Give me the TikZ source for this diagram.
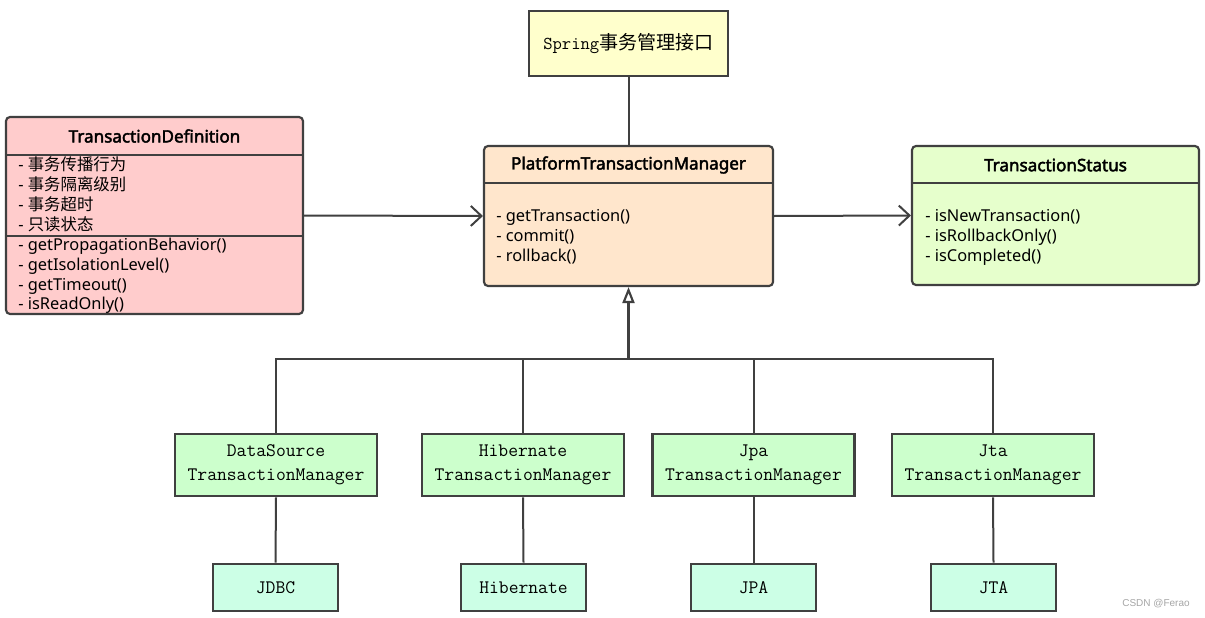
\documentclass[tikz,border=0pt]{standalone}
\usepackage{fontspec}
\setmainfont{Noto Sans}
\newfontfamily\cjk{Noto Sans CJK SC}
\newfontfamily\ttlf{Noto Sans}[FakeBold=2.5]
\newfontfamily\wmf{Liberation Sans}
\usetikzlibrary{arrows.meta}
\definecolor{edge}{HTML}{404040}
\definecolor{tdfill}{HTML}{FFCCCC}
\definecolor{ptmfill}{HTML}{FFE6CC}
\definecolor{tsfill}{HTML}{E6FFCC}
\definecolor{springfill}{HTML}{FFFFCC}
\definecolor{tmfill}{HTML}{CCFFCC}
\definecolor{techfill}{HTML}{CCFFE6}
\tikzset{
  umlbox/.style={draw=edge, line width=1.6pt, rounded corners=3pt, inner sep=0pt},
  plainbox/.style={draw=edge, line width=1.9pt, inner sep=0pt},
  tmbox/.style={plainbox, fill=tmfill, minimum width=151.5pt, minimum height=46.5pt, align=center, font=\ttfamily\fontsize{14.3}{18}\selectfont},
  techbox/.style={plainbox, fill=techfill, minimum width=93.75pt, minimum height=35.25pt, font=\ttfamily\fontsize{14.3}{18}\selectfont},
  sep/.style={draw=edge, line width=1.5pt},
  conn/.style={draw=edge, line width=1.5pt},
  memb/.style={anchor=west, inner sep=0pt, text height=8.5pt, text depth=2.5pt, font=\fontsize{12.3}{14}\selectfont},
  ttl/.style={inner sep=0pt, font=\ttlf\fontsize{12.8}{14}\selectfont},
}
\begin{document}
\begin{tikzpicture}[x=0.75pt,y=-0.75pt]
\useasboundingbox[fill=white] (0,0) rectangle (1205,617);
% boxes
\node[plainbox, fill=springfill, minimum width=149.25pt, minimum height=48.75pt] (spring) at (628.5,43.5)
  {\ttfamily\fontsize{13.6}{14}\selectfont Spring{\cjk\fontsize{14.3}{14}\selectfont 事务管理接口}};
\node[umlbox, fill=tdfill, minimum width=222.75pt, minimum height=147.75pt] (td) at (154.5,215.5) {};
\node[umlbox, fill=ptmfill, minimum width=216.75pt, minimum height=105pt] (ptm) at (628.5,216) {};
\node[umlbox, fill=tsfill, minimum width=215.25pt, minimum height=104.25pt] (ts) at (1055.5,215.5) {};
% separators
\coordinate (s1) at (0,155);
\coordinate (s2) at (0,236);
\coordinate (s3) at (0,183);
\draw[sep] (td.west |- s1) -- (td.east |- s1);
\draw[sep] (td.west |- s2) -- (td.east |- s2);
\draw[sep] (ptm.west |- s3) -- (ptm.east |- s3);
\draw[sep] (ts.west |- s3) -- (ts.east |- s3);
% titles
\node[ttl] (tdt) at (154.5,136) {TransactionDefinition};
\node[ttl] (ptmt) at (628.5,165) {PlatformTransactionManager};
\node[ttl] (tst) at (1055.5,165) {TransactionStatus};
% members
\node[memb] (td1) at (18,166) {- {\cjk 事务传播行为}};
\node[memb] (td2) at (18,186) {- {\cjk 事务隔离级别}};
\node[memb] (td3) at (18,206) {- {\cjk 事务超时}};
\node[memb] (td4) at (18,226) {- {\cjk 只读状态}};
\node[memb] (td5) at (18,246) {- getPropagationBehavior()};
\node[memb] (td6) at (18,266) {- getIsolationLevel()};
\node[memb] (td7) at (18,286) {- getTimeout()};
\node[memb] (td8) at (18,305.5) {- isReadOnly()};
\node[memb] (p1) at (496,217) {- getTransaction()};
\node[memb] (p2) at (496,237) {- commit()};
\node[memb] (p3) at (496,257) {- rollback()};
\node[memb] (t1) at (925,217) {- isNewTransaction()};
\node[memb] (t2) at (925,237) {- isRollbackOnly()};
\node[memb] (t3) at (925,257) {- isCompleted()};
% implementations
\node[tmbox] (ds) at (276,465) {DataSource\\TransactionManager};
\node[tmbox] (hib) at (523,465) {Hibernate\\TransactionManager};
\node[tmbox] (jpa) at (753.5,465) {Jpa\\TransactionManager};
\node[tmbox] (jta) at (993,465) {Jta\\TransactionManager};
\node[techbox] (jdbc) at (275.5,587.5) {JDBC};
\node[techbox] (hibt) at (523.5,587.5) {Hibernate};
\node[techbox] (jpat) at (753.5,587.5) {JPA};
\node[techbox] (jtat) at (993.5,587.5) {JTA};
% connectors
\draw[conn] (spring.south) -- (ptm.north);
\draw[conn, -{Straight Barb[length=8pt,width=15pt]}] (td.east) -- (ptm.west);
\draw[conn, -{Straight Barb[length=8pt,width=15pt]}] (ptm.east) -- (ts.west);
\coordinate (bus) at (628.5,359);
\draw[draw=edge, line width=2.3pt, -{Triangle[open,length=12pt,width=9pt,line width=1.6pt]}] (bus) -- (ptm.south);
\draw[conn] (ds.north) -- (ds.north |- bus) -- (jta.north |- bus) -- (jta.north);
\draw[conn] (hib.north) -- (hib.north |- bus);
\draw[conn] (jpa.north) -- (jpa.north |- bus);
\draw[conn] (ds.south) -- (jdbc.north);
\draw[conn] (hib.south) -- (hibt.north);
\draw[conn] (jpa.south) -- (jpat.north);
\draw[conn] (jta.south) -- (jtat.north);
% watermark
\node[inner sep=0pt, text=gray!70, font=\wmf\fontsize{7.5}{9}\selectfont] (wm) at (1156,604) {CSDN @Ferao};
\end{tikzpicture}
\end{document}
